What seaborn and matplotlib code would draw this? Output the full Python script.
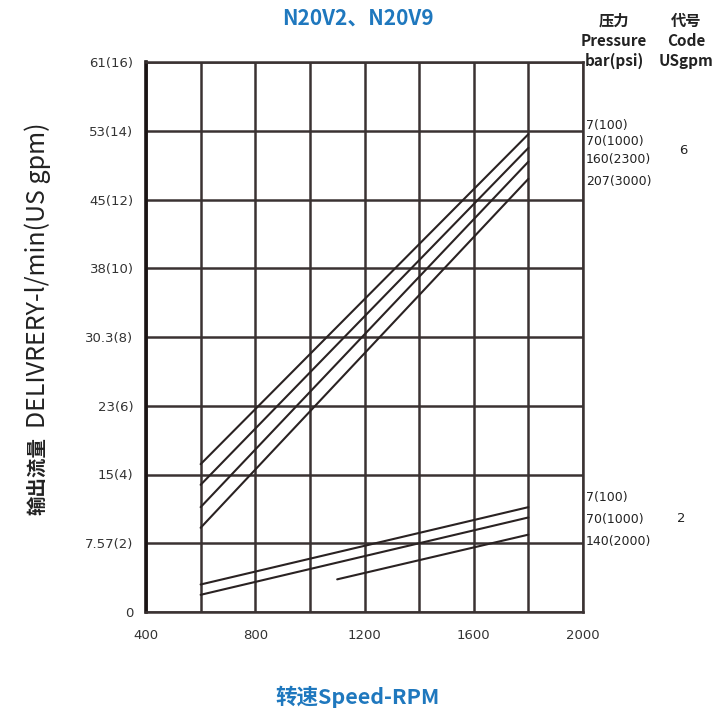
import matplotlib
matplotlib.use("Agg")
import matplotlib.pyplot as plt
import pandas as pd
import seaborn as sns

# Data (flow in US gpm)
rpm_ticks = [400, 600, 800, 1000, 1200, 1400, 1600, 1800, 2000]
rpm_labels = ['400', '', '800', '', '1200', '', '1600', '', '2000']
gpm_ticks = [0, 2, 4, 6, 8, 10, 12, 14, 16]
flow_labels = ['0', '7.57(2)', '15(4)', '23(6)', '30.3(8)', '38(10)', '45(12)', '53(14)', '61(16)']

# code 6 pump, four pressures
press_6 = ['7(100)', '70(1000)', '160(2300)', '207(3000)']
rpm_start_6 = [600, 600, 600, 600]
rpm_end_6 = [1800, 1800, 1800, 1800]
flow_start_6 = [4.3, 3.7, 3.05, 2.45]
flow_end_6 = [13.9, 13.5, 13.1, 12.6]

# code 2 pump, three pressures
press_2 = ['7(100)', '70(1000)', '140(2000)']
rpm_start_2 = [600, 600, 1100]
rpm_end_2 = [1800, 1800, 1800]
flow_start_2 = [0.8, 0.5, 0.95]
flow_end_2 = [3.05, 2.75, 2.25]

rows = []
for code, press, r0, r1, f0, f1 in [('6', press_6, rpm_start_6, rpm_end_6, flow_start_6, flow_end_6),
                                     ('2', press_2, rpm_start_2, rpm_end_2, flow_start_2, flow_end_2)]:
    for i, p in enumerate(press):
        rows.append({'line': code + '_' + p, 'rpm': r0[i], 'gpm': f0[i]})
        rows.append({'line': code + '_' + p, 'rpm': r1[i], 'gpm': f1[i]})
df = pd.DataFrame(rows)

sns.set_style('white')
plt.rcParams['font.family'] = ['DejaVu Sans', 'Noto Sans CJK SC']

fig = plt.figure(figsize=(7.16, 7.15), dpi=100)
ax = fig.add_axes([146 / 716, 1 - 612 / 715, 437 / 716, 550 / 715])

grid_c = '#3a3232'
for x in rpm_ticks:
    ax.axvline(x, color=grid_c, lw=1.8, zorder=1)
for y in gpm_ticks:
    ax.axhline(y, color=grid_c, lw=1.8, zorder=1)

sns.lineplot(data=df, x='rpm', y='gpm', units='line', estimator=None,
             color='#2a2222', lw=1.5, ax=ax, legend=False, zorder=3)

ax.set_xlim(400, 2000)
ax.set_ylim(0, 16)
ax.set_xticks(rpm_ticks)
ax.set_xticklabels(rpm_labels, fontsize=9.5, color='#333333')
ax.set_yticks(gpm_ticks)
ax.set_yticklabels(flow_labels, fontsize=9.5, color='#333333')
ax.tick_params(axis='y', length=0, pad=9)
ax.tick_params(axis='x', length=0, pad=12)
for side in ['top', 'right', 'bottom']:
    ax.spines[side].set_color(grid_c)
    ax.spines[side].set_linewidth(1.8)
ax.spines['left'].set_color('#1a1414')
ax.spines['left'].set_linewidth(2.6)
ax.set_xlabel('')
ax.set_ylabel('')

# right-hand labels
cjk = ['Noto Sans CJK SC', 'DejaVu Sans']
lab_y6 = [125, 142, 160, 181]
lab_y2 = [498, 519, 541]
for t, y in zip(press_6, lab_y6):
    fig.text(586 / 716, 1 - y / 715, t, fontsize=9, va='center', ha='left', color='#222222')
for t, y in zip(press_2, lab_y2):
    fig.text(586 / 716, 1 - y / 715, t, fontsize=9, va='center', ha='left', color='#222222')
fig.text(683 / 716, 1 - 150 / 715, '6', fontsize=9.5, va='center', ha='center', color='#222222')
fig.text(681 / 716, 1 - 518 / 715, '2', fontsize=9.5, va='center', ha='center', color='#222222')

for x, lines in [(614, ['压力', 'Pressure', 'bar(psi)']), (686, ['代号', 'Code', 'USgpm'])]:
    for k, t in enumerate(lines):
        fig.text(x / 716, 1 - (21 + 20 * k) / 715, t, fontsize=11, fontweight='bold',
                 va='center', ha='center', color='#222222', family=cjk)

fig.text(358 / 716, 1 - 18 / 715, 'N20V2、N20V9', fontsize=15, fontweight='bold',
         color='#1f78be', ha='center', va='center', family=cjk)
fig.text(358 / 716, 1 - 697 / 715, '转速Speed-RPM', fontsize=15.5, fontweight='bold',
         color='#1f78be', ha='center', va='center', family=cjk)

# y label: bold chinese part, then the english part above it
fig.text(38 / 716, 1 - 515 / 715, '输出流量', fontsize=14, fontweight='bold',
         rotation=90, rotation_mode='anchor', ha='left', va='center',
         color='#222222', family=cjk)
fig.text(38 / 716, 1 - 428 / 715, 'DELIVRERY-l/min(US gpm)', fontsize=18,
         rotation=90, rotation_mode='anchor', ha='left', va='center',
         color='#222222', family=cjk)

fig.savefig('out.png', dpi=100)
